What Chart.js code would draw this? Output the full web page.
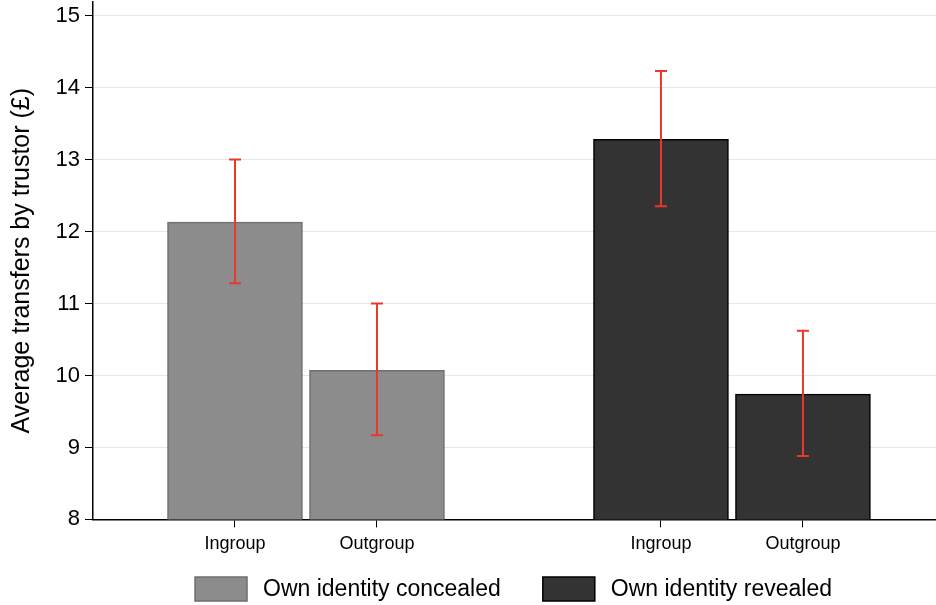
<!DOCTYPE html>
<html>
<head>
<meta charset="utf-8">
<script src="https://cdn.jsdelivr.net/npm/chart.js@4/dist/chart.umd.min.js"></script>
<style>
  html, body { margin: 0; padding: 0; background: #fff; }
  #wrap { width: 936px; height: 605px; }
</style>
</head>
<body>
<div id="wrap"><canvas id="chart"></canvas></div>
<script>
// Data
const groupLabels = ['Ingroup', 'Outgroup'];
const seriesNames = ['Own identity concealed', 'Own identity revealed'];
const concealedMean = [12.13, 10.07];
const concealedLow = [11.28, 9.17];
const concealedHigh = [13.0, 11.0];
const revealedMean = [13.28, 9.74];
const revealedLow = [12.35, 8.88];
const revealedHigh = [14.23, 10.62];
const yTicks = [8, 9, 10, 11, 12, 13, 14, 15];

// each series sits in its own block of slots, with an empty slot between blocks
function slot(seriesIndex, i) {
    return seriesIndex * 3 + i + 1;
}

function toPoints(seriesIndex, values) {
    return values.map((v, i) => ({ x: slot(seriesIndex, i), y: v }));
}

const errorRanges = [
    { low: concealedLow, high: concealedHigh },
    { low: revealedLow, high: revealedHigh }
];

const tickText = {};
[0, 1].forEach(s => groupLabels.forEach((g, i) => { tickText[slot(s, i)] = g; }));

// Draws the red confidence intervals
const errorBarPlugin = {
    id: 'errorBars',
    afterDatasetsDraw(chart) {
        const ctx = chart.ctx;
        const xScale = chart.scales.x;
        const yScale = chart.scales.y;
        ctx.save();
        ctx.strokeStyle = '#e8392b';
        ctx.lineWidth = 2;
        chart.data.datasets.forEach((ds, d) => {
            ds.data.forEach((pt, i) => {
                const x = xScale.getPixelForValue(pt.x);
                const yLo = yScale.getPixelForValue(errorRanges[d].low[i]);
                const yHi = yScale.getPixelForValue(errorRanges[d].high[i]);
                ctx.beginPath();
                ctx.moveTo(x, yLo);
                ctx.lineTo(x, yHi);
                ctx.moveTo(x - 6, yLo);
                ctx.lineTo(x + 6, yLo);
                ctx.moveTo(x - 6, yHi);
                ctx.lineTo(x + 6, yHi);
                ctx.stroke();
            });
        });
        ctx.restore();
    }
};

// Legend below the axis, laid out like the original (wide gap between items)
const bottomLegendPlugin = {
    id: 'bottomLegend',
    afterDraw(chart) {
        const ctx = chart.ctx;
        const boxW = 52, boxH = 24, textGap = 16, itemGap = 42;
        const font = '23px "Liberation Sans", Arial, sans-serif';
        ctx.save();
        ctx.font = font;
        const items = chart.data.datasets.map(ds => ({
            text: ds.label,
            fill: ds.backgroundColor,
            stroke: ds.borderColor,
            width: boxW + textGap + ctx.measureText(ds.label).width
        }));
        const total = items.reduce((s, it) => s + it.width, 0) + itemGap * (items.length - 1);
        const area = chart.chartArea;
        const centerX = (area.left + area.right) / 2 - 1;
        const top = chart.height - 28;
        let x = centerX - total / 2;
        items.forEach(it => {
            ctx.fillStyle = it.fill;
            ctx.fillRect(x, top, boxW, boxH);
            ctx.strokeStyle = it.stroke;
            ctx.lineWidth = 1.5;
            ctx.strokeRect(x, top, boxW, boxH);
            ctx.fillStyle = '#000';
            ctx.textBaseline = 'middle';
            ctx.textAlign = 'left';
            ctx.fillText(it.text, x + boxW + textGap, top + boxH / 2 + 1);
            x += it.width + itemGap;
        });
        ctx.restore();
    }
};

Chart.defaults.font.family = '"Liberation Sans", Arial, Helvetica, sans-serif';
Chart.defaults.color = '#000';

const ctx = document.getElementById('chart').getContext('2d');
new Chart(ctx, {
    type: 'bar',
    data: {
        datasets: [
            {
                label: seriesNames[0],
                data: toPoints(0, concealedMean),
                backgroundColor: '#8c8c8c',
                borderColor: '#6f6f6f',
                borderWidth: 1.5,
                borderSkipped: false,
                barThickness: 135,
                grouped: false
            },
            {
                label: seriesNames[1],
                data: toPoints(1, revealedMean),
                backgroundColor: '#333333',
                borderColor: '#000000',
                borderWidth: 1.5,
                borderSkipped: false,
                barThickness: 135,
                grouped: false
            }
        ]
    },
    options: {
        responsive: true,
        maintainAspectRatio: false,
        animation: false,
        layout: { padding: { top: 2, left: 0, right: 0, bottom: 44 } },
        plugins: {
            tooltip: { enabled: false },
            legend: { display: false }
        },
        scales: {
            x: {
                type: 'linear',
                min: 0,
                max: 5.937,
                offset: false,
                afterBuildTicks: (scale) => {
                    scale.ticks = Object.keys(tickText).map(v => ({ value: Number(v) }));
                },
                ticks: {
                    autoSkip: false,
                    maxRotation: 0,
                    padding: 6,
                    font: { size: 18 },
                    callback: (v) => tickText[v] || ''
                },
                grid: {
                    offset: false,
                    drawOnChartArea: false,
                    drawTicks: true,
                    tickLength: 8,
                    tickColor: '#000'
                },
                border: { color: '#000', width: 1.5 }
            },
            y: {
                min: 8,
                max: 15.19,
                afterBuildTicks: (scale) => {
                    scale.ticks = yTicks.map(v => ({ value: v }));
                },
                afterFit: (scale) => {
                    scale.width = 93;
                    scale.paddingTop = 0;
                    scale.paddingBottom = 0;
                },
                ticks: {
                    padding: 5,
                    font: { size: 22 }
                },
                grid: {
                    color: '#e6e6e6',
                    lineWidth: 1,
                    tickLength: 8,
                    tickColor: '#000'
                },
                border: { color: '#000', width: 1.5 },
                title: {
                    display: true,
                    text: 'Average transfers by trustor (£)',
                    font: { size: 25 },
                    padding: { top: 7, bottom: 0 }
                }
            }
        }
    },
    plugins: [errorBarPlugin, bottomLegendPlugin]
});
</script>
</body>
</html>
